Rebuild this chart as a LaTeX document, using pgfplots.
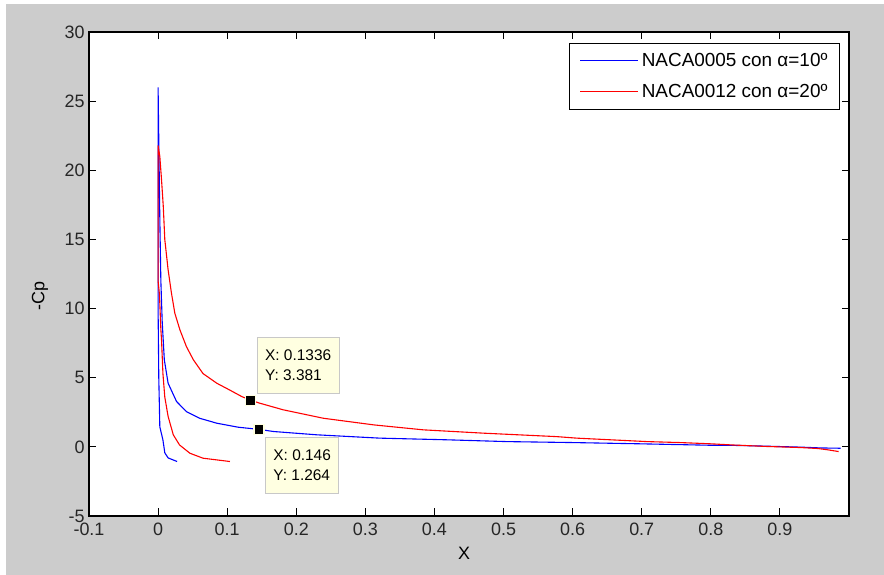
\documentclass[border=0pt]{standalone}
\usepackage{pgfplots}
\pgfplotsset{compat=1.18}
\usepackage{fontspec}
\setmainfont{Liberation Sans}
\definecolor{figgray}{HTML}{CCCCCC}
\definecolor{tipfill}{HTML}{FFFFE1}
\definecolor{tipborder}{HTML}{C8C8C8}
\begin{document}
\begin{tikzpicture}
\fill[white] (0,0) rectangle (884bp,575bp);
\fill[figgray] (6bp,0) rectangle (884bp,571bp);
\useasboundingbox (0,0) rectangle (884bp,575bp);
\begin{axis}[
  at={(89bp,59bp)}, anchor=south west,
  scale only axis, width=760bp, height=484bp,
  xmin=-0.1, xmax=1, ymin=-5, ymax=30,
  axis background/.style={fill=white},
  axis line style={black, line width=1.1bp},
  tick align=inside, major tick length=7.5bp,
  tick style={black, line width=1bp},
  xtick={-0.1,0,0.1,0.2,0.3,0.4,0.5,0.6,0.7,0.8,0.9},
  xticklabels={-0.1,0,0.1,0.2,0.3,0.4,0.5,0.6,0.7,0.8,0.9},
  ytick={-5,0,5,10,15,20,25,30},
  yticklabels={-5,0,5,10,15,20,25,30},
  ticklabel style={font=\fontsize{18}{21}\selectfont, text=black!85},
  xticklabel style={yshift=-3bp},
  yticklabel style={xshift=-1bp},
  xlabel={X}, ylabel={-Cp},
  label style={font=\fontsize{18}{21}\selectfont},
  xlabel style={at={(axis description cs:0.5,0)}, anchor=center, yshift=-37bp, xshift=-5bp},
  ylabel style={at={(axis description cs:-0.0645,0.4545)}, anchor=center},
  legend style={at={(0.988,0.977)}, anchor=north east, draw=black, line width=0.8bp,
    font=\fontsize{19}{22}\selectfont, inner xsep=10bp, inner ysep=8bp, row sep=12bp,
    /tikz/every odd column/.append style={column sep=1bp}},
  legend cell align=left,
  legend image code/.code={\draw[#1] (0bp,0bp) -- (58bp,0bp);},
]
\addplot[blue, line width=1.1bp] coordinates {
 (0.0275,-1.06) (0.0145,-0.8) (0.0097,-0.43) (0.007,0.5) (0.0025,1.45) (0.001,5)
 (0,10) (0,26) (0.0025,16.5) (0.004,12) (0.006,9) (0.009,6.3) (0.0145,4.6)
 (0.0267,3.28) (0.041,2.55) (0.06,2.07) (0.085,1.71) (0.116,1.42) (0.146,1.264)
 (0.167,1.11) (0.23,0.87) (0.321,0.63) (0.418,0.51) (0.505,0.38) (0.601,0.31)
 (0.698,0.22) (0.795,0.12) (0.84,0.1) (0.88,0.05) (0.93,-0.02) (0.96,-0.08) (0.988,-0.1)
};
\addlegendentry{NACA0005 con α=10º\hspace{5bp}}
\addplot[red, line width=1.1bp] coordinates {
 (0.104,-1.06) (0.065,-0.82) (0.046,-0.46) (0.031,0.14) (0.022,0.87) (0.0145,2.2)
 (0.0097,3.6) (0.007,5.3) (0.005,7.7) (0.004,8.5) (0.002,11) (0,12) (0,21.8)
 (0.0025,21.0) (0.005,19.3) (0.0075,17.4) (0.0097,15.0) (0.0145,12.8) (0.0194,11.1)
 (0.0242,9.67) (0.0316,8.46) (0.041,7.25) (0.051,6.3) (0.065,5.3) (0.085,4.6)
 (0.104,4.1) (0.121,3.64) (0.1336,3.381) (0.147,3.16) (0.181,2.68) (0.239,2.07)
 (0.312,1.59) (0.384,1.23) (0.471,0.99) (0.577,0.74) (0.606,0.63) (0.655,0.51)
 (0.708,0.38) (0.756,0.31) (0.80,0.22) (0.83,0.14) (0.88,0.03) (0.93,-0.05)
 (0.955,-0.12) (0.97,-0.22) (0.985,-0.34)
};
\addlegendentry{NACA0012 con α=20º\hspace{5bp}}
\addplot[only marks, mark=square*, mark size=5bp, forget plot,
  mark options={fill=black, draw=tipfill, line width=1.2bp}]
  coordinates {(0.1336,3.381) (0.146,1.264)};
\node[draw=tipborder, fill=tipfill, line width=1bp, anchor=north west, align=left,
  font=\fontsize{15.5}{20}\selectfont, inner xsep=8bp, inner ysep=13bp]
  at (axis cs:0.1426,7.975) {X: 0.1336\\Y: 3.381};
\node[draw=tipborder, fill=tipfill, line width=1bp, anchor=north west, align=left,
  font=\fontsize{15.5}{20}\selectfont, inner xsep=8bp, inner ysep=13bp]
  at (axis cs:0.1546,0.745) {X: 0.146\\Y: 1.264};
\end{axis}
\end{tikzpicture}
\end{document}
